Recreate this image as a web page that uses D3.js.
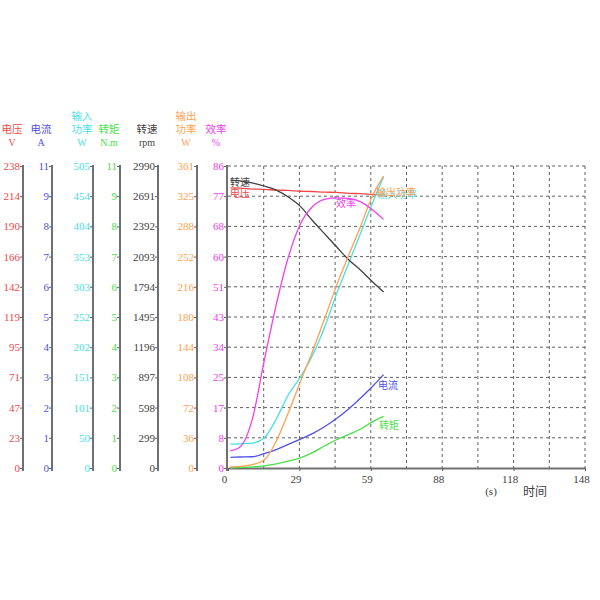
<!DOCTYPE html>
<html>
<head>
<meta charset="utf-8">
<title>电机特性曲线</title>
<script src="https://d3js.org/d3.v7.min.js"></script>
<style>
    html, body { margin: 0; padding: 0; background: #fff; }
    svg { display: block; }
    .tick text { font-family: "Liberation Serif", serif; font-size: 11px; }
    .hdr { font-family: "Noto Sans CJK SC", sans-serif; font-size: 10.5px; text-anchor: middle; }
    .unit { font-family: "Liberation Serif", serif; font-size: 10px; text-anchor: middle; }
    .lbl { font-family: "Noto Sans CJK SC", sans-serif; font-size: 10px; }
</style>
</head>
<body>
<svg id="chart" width="600" height="600"></svg>
<script>
// time samples (s)
const time = [1, 5, 10, 15, 20, 25, 30, 35, 40, 45, 50, 55, 60, 64.5];

const voltage = [220.7, 220.5, 219.8, 219.6, 219.0, 218.8, 218.1, 217.9, 217.4, 217.2, 216.5, 216.2, 215.6, 215.2];
const current = [0.39, 0.40, 0.41, 0.52, 0.67, 0.86, 1.05, 1.25, 1.50, 1.80, 2.15, 2.55, 2.98, 3.40];
const inputPower = [40, 40.5, 41.5, 50, 82, 122, 152, 188, 235, 291, 342, 393, 444, 487];
const torque = [0.0, 0.02, 0.04, 0.08, 0.15, 0.25, 0.37, 0.56, 0.80, 1.03, 1.22, 1.42, 1.69, 1.88];
const speed = [2851, 2842, 2822, 2792, 2752, 2683, 2590, 2450, 2320, 2190, 2062, 1958, 1842, 1743];
const outputPower = [1.2, 2.0, 4.0, 9.5, 32, 66, 103, 139, 178, 218, 254, 289, 326, 349];
const efficiency = [4.9, 6.0, 13.7, 30.5, 46.5, 60.0, 69.5, 74.4, 76.5, 76.9, 76.8, 75.8, 73.5, 70.8];

// tick labels of the seven left axes
const voltageTicks = ['0', '23', '47', '71', '95', '119', '142', '166', '190', '214', '238'];
const currentTicks = ['0', '1', '2', '3', '4', '5', '6', '7', '8', '9', '11'];
const inputTicks = ['0', '50', '101', '151', '202', '252', '303', '353', '404', '454', '505'];
const torqueTicks = ['0', '1', '2', '3', '4', '5', '6', '7', '8', '9', '11'];
const speedTicks = ['0', '299', '598', '897', '1196', '1495', '1794', '2093', '2392', '2691', '2990'];
const outputTicks = ['0', '36', '72', '108', '144', '180', '216', '252', '288', '325', '361'];
const effTicks = ['0', '8', '17', '25', '34', '43', '51', '60', '68', '77', '86'];
const timeTicks = ['0', '29', '59', '88', '118', '148'];

const svg = d3.select('#chart');
const plotTop = 166, plotBottom = 468, plotLeft = 228, plotRight = 585;

const x = d3.scaleLinear().domain([0, 148]).range([plotLeft, plotRight]);

const series = [
    {name: '电压', unit: 'V', max: 238, ticks: voltageTicks, values: voltage, color: '#f04848', axisX: 23},
    {name: '电流', unit: 'A', max: 11, ticks: currentTicks, values: current, color: '#5050e8', axisX: 52},
    {name: ['输入', '功率'], unit: 'W', max: 505, ticks: inputTicks, values: inputPower, color: '#48e0e8', axisX: 93},
    {name: '转矩', unit: 'N.m', max: 11, ticks: torqueTicks, values: torque, color: '#48e048', axisX: 120},
    {name: '转速', unit: 'rpm', max: 2990, ticks: speedTicks, values: speed, color: '#404040', axisX: 158},
    {name: ['输出', '功率'], unit: 'W', max: 361, ticks: outputTicks, values: outputPower, color: '#ffa050', axisX: 197},
    {name: '效率', unit: '%', max: 86, ticks: effTicks, values: efficiency, color: '#f040f0', axisX: 227},
];

// grid
const gGrid = svg.append('g');
const yGrid = d3.scaleLinear().domain([0, 10]).range([plotBottom, plotTop]);
gGrid.selectAll('line.h')
    .data(d3.range(1, 11))
    .join('line')
    .attr('class', 'h')
    .attr('x1', plotLeft).attr('x2', plotRight)
    .attr('y1', d => yGrid(d)).attr('y2', d => yGrid(d))
    .attr('stroke', '#606060').attr('stroke-dasharray', '3,3');
gGrid.selectAll('line.v')
    .data(d3.range(1, 11))
    .join('line')
    .attr('class', 'v')
    .attr('x1', d => x(d * 14.8)).attr('x2', d => x(d * 14.8))
    .attr('y1', plotTop).attr('y2', plotBottom)
    .attr('stroke', '#606060').attr('stroke-dasharray', '3,3');

// left axes
series.forEach(s => {
    s.y = d3.scaleLinear().domain([0, s.max]).range([plotBottom, plotTop]);
    const g = svg.append('g').attr('transform', `translate(${s.axisX},0)`);
    g.call(d3.axisLeft(s.y)
        .tickValues(d3.range(11).map(i => i * s.max / 10))
        .tickFormat((d, i) => s.ticks[i])
        .tickSize(3)
        .tickPadding(0));
    g.select('.domain').remove();
    g.selectAll('.tick line').attr('stroke', '#606060');
    g.selectAll('.tick text').attr('fill', s.color);
    g.append('line')
        .attr('y1', plotTop - 1).attr('y2', plotBottom + 3)
        .attr('stroke', '#707070').attr('stroke-width', 2);

    const cx = s.axisX - 11;
    const names = Array.isArray(s.name) ? s.name : [s.name];
    names.forEach((n, i) => {
        svg.append('text').attr('class', 'hdr')
            .attr('x', cx).attr('y', 133 - (names.length - 1 - i) * 13)
            .attr('fill', s.color).text(n);
    });
    svg.append('text').attr('class', 'unit')
        .attr('x', cx).attr('y', 146)
        .attr('fill', s.color).text(s.unit);
});

// bottom axis
const gx = svg.append('g').attr('transform', `translate(0,${plotBottom})`);
gx.call(d3.axisBottom(x)
    .tickValues(d3.range(6).map(i => i * 29.6))
    .tickFormat((d, i) => timeTicks[i])
    .tickSize(3)
    .tickSizeOuter(0)
    .tickPadding(4));
gx.select('.domain').attr('stroke', '#707070').attr('stroke-width', 2);
gx.selectAll('.tick line').attr('stroke', '#606060');
gx.selectAll('.tick text').attr('fill', '#404040').attr('dx', '-4');

svg.append('text').attr('class', 'unit')
    .attr('x', 491).attr('y', 495).attr('fill', '#404040').style('font-size', '11px').text('(s)');
svg.append('text').attr('class', 'hdr')
    .attr('x', 535).attr('y', 496).attr('fill', '#404040').style('font-size', '12px').text('时间');

// curves
const gLines = svg.append('g');
series.forEach(s => {
    const line = d3.line()
        .x((d, i) => x(time[i]))
        .y(d => s.y(d))
        .curve(d3.curveMonotoneX);
    gLines.append('path')
        .datum(s.values)
        .attr('fill', 'none')
        .attr('stroke', s.color)
        .attr('stroke-width', 1.3)
        .attr('d', line);
});

// curve labels
const curveLabels = [
    {text: '转速', x: 230, y: 186, color: '#404040'},
    {text: '电压', x: 230, y: 197, color: '#f04848'},
    {text: '效率', x: 336, y: 207, color: '#f040f0'},
    {text: '输入功率', x: 377, y: 198, color: '#48e0e8'},
    {text: '输出功率', x: 376, y: 196, color: '#ffa050'},
    {text: '电流', x: 378, y: 389, color: '#5050e8'},
    {text: '转矩', x: 379, y: 429, color: '#48e048'},
];
svg.append('g').selectAll('text')
    .data(curveLabels)
    .join('text')
    .attr('class', 'lbl')
    .attr('x', d => d.x).attr('y', d => d.y)
    .attr('fill', d => d.color)
    .text(d => d.text);
</script>
</body>
</html>
